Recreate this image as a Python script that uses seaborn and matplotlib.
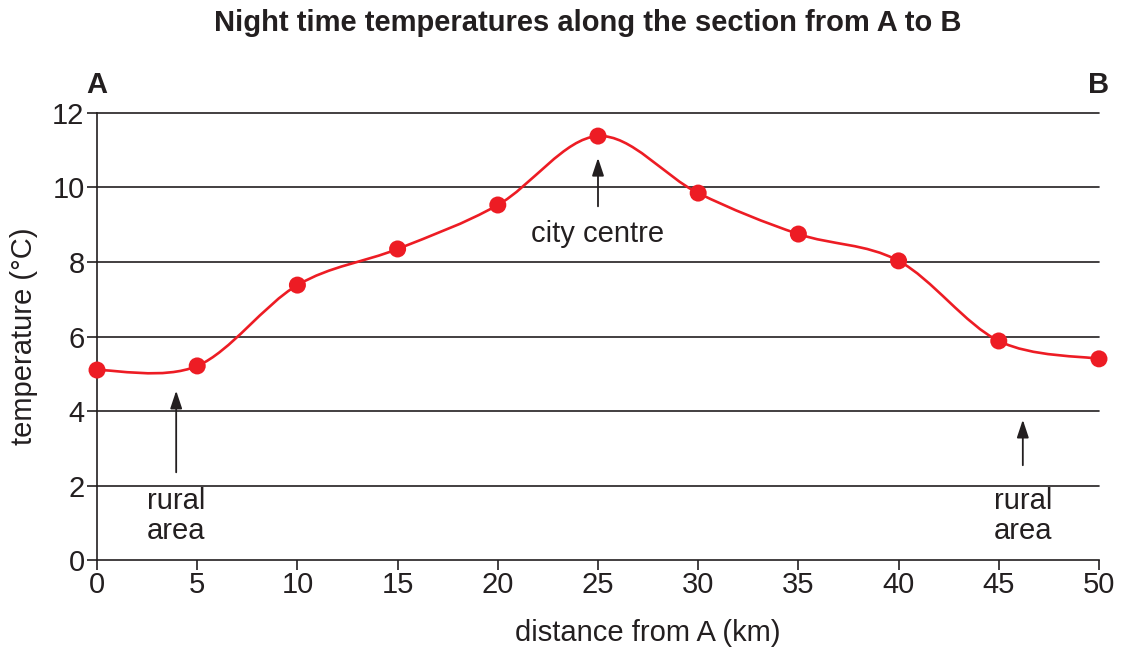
import matplotlib
matplotlib.use("Agg")
import matplotlib.pyplot as plt
from matplotlib.path import Path
from matplotlib.patches import PathPatch
import seaborn as sns
import pandas as pd
import numpy as np

distance_km = [0, 5, 10, 15, 20, 25, 30, 35, 40, 45, 50]
temperature_c = [5.10, 5.21, 7.38, 8.35, 9.53, 11.38, 9.85, 8.75, 8.03, 5.88, 5.40]
y_ticks = [0, 2, 4, 6, 8, 10, 12]
x_ticks = [0, 5, 10, 15, 20, 25, 30, 35, 40, 45, 50]

sns.set_theme(style="white")
plt.rcParams['font.family'] = ['Liberation Sans', 'DejaVu Sans']

INK = "#231f20"
RED = "#ed1c24"
FS = 21

fig = plt.figure(figsize=(11.23, 6.55), dpi=100)
ax = fig.add_axes([0.0864, 0.145, 0.8922, 0.6825])

df = pd.DataFrame({"distance": distance_km, "temp": temperature_c})

# smooth curve through points (Catmull-Rom as cubic Bezier)
xs = np.array(distance_km, float)
ys = np.array(temperature_c, float)
n = len(xs)
verts = [(xs[0], ys[0])]
codes = [Path.MOVETO]
for i in range(n - 1):
    p0 = np.array([xs[max(i - 1, 0)], ys[max(i - 1, 0)]])
    p1 = np.array([xs[i], ys[i]])
    p2 = np.array([xs[i + 1], ys[i + 1]])
    p3 = np.array([xs[min(i + 2, n - 1)], ys[min(i + 2, n - 1)]])
    c1 = p1 + (p2 - p0) / 6.0
    c2 = p2 - (p3 - p1) / 6.0
    verts += [tuple(c1), tuple(c2), tuple(p2)]
    codes += [Path.CURVE4] * 3
ax.add_patch(PathPatch(Path(verts, codes), facecolor="none", edgecolor=RED, lw=1.9, zorder=3))

sns.scatterplot(data=df, x="distance", y="temp", ax=ax, color=RED, s=150,
                edgecolor="none", zorder=4, legend=False, clip_on=False)

ax.set_xlim(0, 50)
ax.set_ylim(0, 12)
ax.set_xticks(x_ticks)
ax.set_yticks(y_ticks)
ax.tick_params(axis="both", labelsize=FS, colors=INK, length=7, width=1.2, direction="out",
               left=True, bottom=True)
ax.tick_params(axis="x", pad=1)
ax.tick_params(axis="y", pad=2)
for t in y_ticks[1:]:
    ax.axhline(t, color=INK, lw=1.2, zorder=1, clip_on=False)
for s in ["top", "right"]:
    ax.spines[s].set_visible(False)
for s in ["left", "bottom"]:
    ax.spines[s].set_color(INK)
    ax.spines[s].set_linewidth(1.2)
ax.margins(0)
ax.set_xlabel("distance from A (km)", fontsize=FS, color=INK)
ax.xaxis.set_label_coords(0.55, -0.163, transform=ax.transAxes)
ax.xaxis.label.set_va("center")
ax.set_ylabel("temperature (°C)", fontsize=FS, color=INK, labelpad=10)

fig.text(0.523, 0.965, "Night time temperatures along the section from A to B", fontsize=FS,
         fontweight="bold", color=INK, ha="center", va="center")
ax.text(0, 12.75, "A", ha="center", va="center", fontsize=FS, fontweight="bold", color=INK)
ax.text(50, 12.75, "B", ha="center", va="center", fontsize=FS, fontweight="bold", color=INK)

arrow = dict(arrowstyle="-|>,head_length=0.9,head_width=0.3", color=INK, lw=1.3)
ax.annotate("", xy=(3.95, 4.62), xytext=(3.95, 2.28), arrowprops=arrow)
ax.annotate("", xy=(46.2, 3.84), xytext=(46.2, 2.47), arrowprops=arrow)
ax.annotate("", xy=(25.0, 10.87), xytext=(25.0, 9.42), arrowprops=arrow)

ax.text(3.95, 1.97, "rural\narea", ha="center", va="top", fontsize=FS, color=INK, linespacing=1.1)
ax.text(46.2, 1.97, "rural\narea", ha="center", va="top", fontsize=FS, color=INK, linespacing=1.1)
ax.text(25.0, 8.75, "city centre", ha="center", va="center", fontsize=FS, color=INK)

fig.savefig("out.png", dpi=100)
